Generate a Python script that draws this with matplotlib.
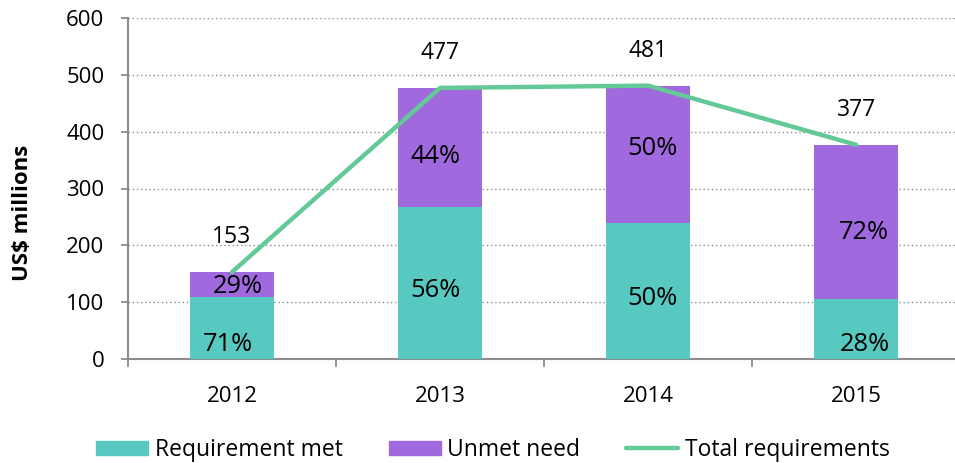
import matplotlib
matplotlib.use("Agg")
import matplotlib.pyplot as plt
from matplotlib.lines import Line2D
from matplotlib.patches import Patch
import numpy as np

plt.rcParams['font.family'] = ['Open Sans', 'DejaVu Sans']

years = ["2012", "2013", "2014", "2015"]
met = [109, 267, 240, 105]
total = [153, 477, 481, 377]
met_pct = ["71%", "56%", "50%", "28%"]
unmet_pct = ["29%", "44%", "50%", "72%"]
unmet = [t - m for t, m in zip(total, met)]

# label layout (data coords)
met_lbl_y = [25, 121, 107, 25]
unmet_lbl_y = [127, 357, 371, 222]
lbl_dx = [-0.02, -0.02, 0.02, 0.04]
unmet_dx = [0.03, -0.02, 0.02, 0.04]

TEAL = "#57C9C0"
PURPLE = "#A069DD"
GREEN = "#63CA97"
GRID = "#8C8C8C"
AXC = "#8C8C8C"

fig = plt.figure(figsize=(9.55, 4.63), dpi=100)
ax = fig.add_axes([128/955, 1-359/463, (960-128)/955, (359-18)/463])

x = np.arange(len(years))
ax.bar(x, met, width=0.4, color=TEAL, zorder=3)
ax.bar(x, unmet, width=0.4, bottom=met, color=PURPLE, zorder=3)
ax.plot(x, total, color=GREEN, lw=3.2, zorder=4, solid_capstyle='round')

for i in range(len(years)):
    ax.text(x[i] + lbl_dx[i], met_lbl_y[i], met_pct[i], ha='center', va='center', fontsize=18.4, zorder=5)
    ax.text(x[i] + unmet_dx[i], unmet_lbl_y[i], unmet_pct[i], ha='center', va='center', fontsize=18.4, zorder=5)
    ax.text(x[i], total[i] + 61, str(total[i]), ha='center', va='center', fontsize=16.5, zorder=5)

ax.set_xlim(-0.5, 3.5)
ax.set_ylim(0, 600)
ax.set_yticks(range(0, 601, 100))
ax.yaxis.grid(True, linestyle=(0, (1, 2)), color=GRID, lw=1, zorder=0)
ax.set_axisbelow(True)

ax.set_xticks(x)
ax.set_xticklabels(years, fontsize=16)
ax.set_xticks(np.arange(-0.5, 3.6, 1), minor=True)
ax.tick_params(axis='x', which='major', length=0, pad=19.5)
ax.tick_params(axis='x', which='minor', length=6, width=1.3, color=AXC, direction='out')
ax.tick_params(axis='y', length=5, width=1.3, color=AXC, pad=12, labelsize=16)

for s in ['top', 'right']:
    ax.spines[s].set_visible(False)
for s in ['left', 'bottom']:
    ax.spines[s].set_color(AXC)
    ax.spines[s].set_linewidth(1.5)

fig.text(23/955, 1-213/463, "US$ millions", rotation=90, ha='center', va='center',
         fontsize=16, fontweight='bold')

handles = [Patch(color=TEAL), Patch(color=PURPLE), Line2D([], [], color=GREEN, lw=3.2, solid_capstyle='round')]
labels = ["Requirement met", "Unmet need", "Total requirements"]
fig.legend(handles, labels, loc='center', bbox_to_anchor=(493/955, 1-450/463), ncol=3, frameon=False,
           fontsize=16.5, handlelength=2.27, handleheight=0.61, handletextpad=0.3, columnspacing=2.0)

fig.savefig("out.png", dpi=100)
